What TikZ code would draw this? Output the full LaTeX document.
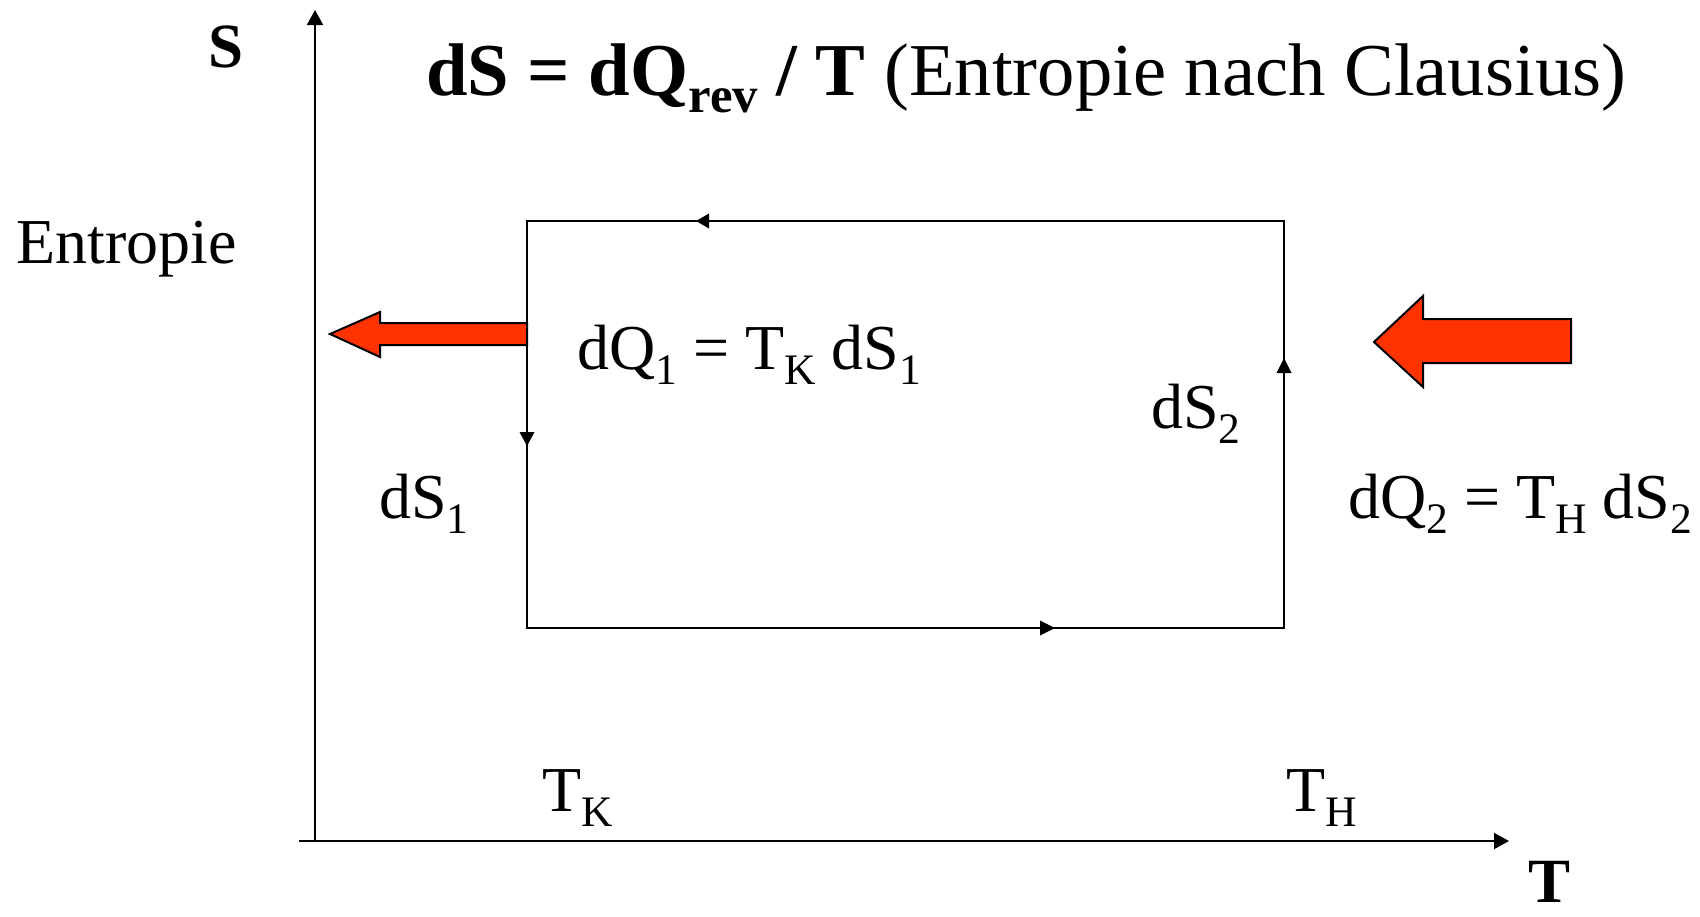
\documentclass[tikz,border=0pt]{standalone}
\usepackage{fontspec}
\setmainfont{Liberation Serif}
\usetikzlibrary{arrows.meta}
\definecolor{heatred}{HTML}{FF3300}
\newcommand\sbs[1]{\raisebox{-0.24em}{\scalebox{0.68}{#1}}}
\tikzset{
  lbl/.style={anchor=base west, inner sep=0pt, font=\fontsize{64}{70}\selectfont},
  axislbl/.style={anchor=base west, inner sep=0pt, font=\fontsize{63}{68}\selectfont\bfseries},
  ttl/.style={anchor=base west, inner sep=0pt, font=\fontsize{74.6}{80}\selectfont},
  axisline/.style={line width=2pt, -{Triangle[length=15pt,width=16pt]}},
  cycle/.style={line width=2pt},
  tipmark/.style={fill=black},
  heatarrow/.style={fill=heatred, draw=black, line width=2pt, line join=miter}
}
\begin{document}
\begin{tikzpicture}[x=1pt,y=-1pt]
\useasboundingbox (0,0) rectangle (1700,916);
% axes
\coordinate (yb) at (315,842);
\coordinate (yt) at (315,10);
\coordinate (xl) at (299,841);
\coordinate (xr) at (1509,841);
\draw[axisline] (yb) -- (yt);
\draw[axisline] (xl) -- (xr);
% rectangle (cycle)
\coordinate (A) at (527,221);
\coordinate (B) at (1284,221);
\coordinate (C) at (1284,628);
\coordinate (D) at (527,628);
\draw[cycle] (A) -- (B) -- (C) -- (D) -- cycle;
% direction marks
\fill[tipmark] (696,221) -- (709,213.5) -- (709,228.5) -- cycle;
\fill[tipmark] (1055,628) -- (1040,620.5) -- (1040,635.5) -- cycle;
\fill[tipmark] (527,446) -- (519.5,432) -- (534.5,432) -- cycle;
\fill[tipmark] (1284,358) -- (1276.5,373) -- (1291.5,373) -- cycle;
% heat arrows
\draw[heatarrow] (527,323) -- (380,323) -- (380,312) -- (330,334) -- (380,357) -- (380,345) -- (527,345) -- cycle;
\draw[heatarrow] (1571,319) -- (1423,319) -- (1423,296) -- (1374,342) -- (1423,387) -- (1423,363) -- (1571,363) -- cycle;
% labels
\node[axislbl] (S) at (208,67) {S};
\node[axislbl] (T) at (1528,902) {T};
\node[ttl] (title) at (426,95) {\textbf{dS = dQ\sbs{rev} / T} (Entropie nach Clausius)};
\node[lbl] (ent) at (16,263) {Entropie};
\node[lbl] (q1) at (577,369) {dQ\sbs{1} = T\sbs{K} dS\sbs{1}};
\node[lbl] (s2) at (1151,428) {dS\sbs{2}};
\node[lbl] (s1) at (379,518) {dS\sbs{1}};
\node[lbl] (q2) at (1348,518) {dQ\sbs{2} = T\sbs{H} dS\sbs{2}};
\node[lbl] (tk) at (542,811) {T\sbs{K}};
\node[lbl] (th) at (1286,811) {T\sbs{H}};
\end{tikzpicture}
\end{document}
